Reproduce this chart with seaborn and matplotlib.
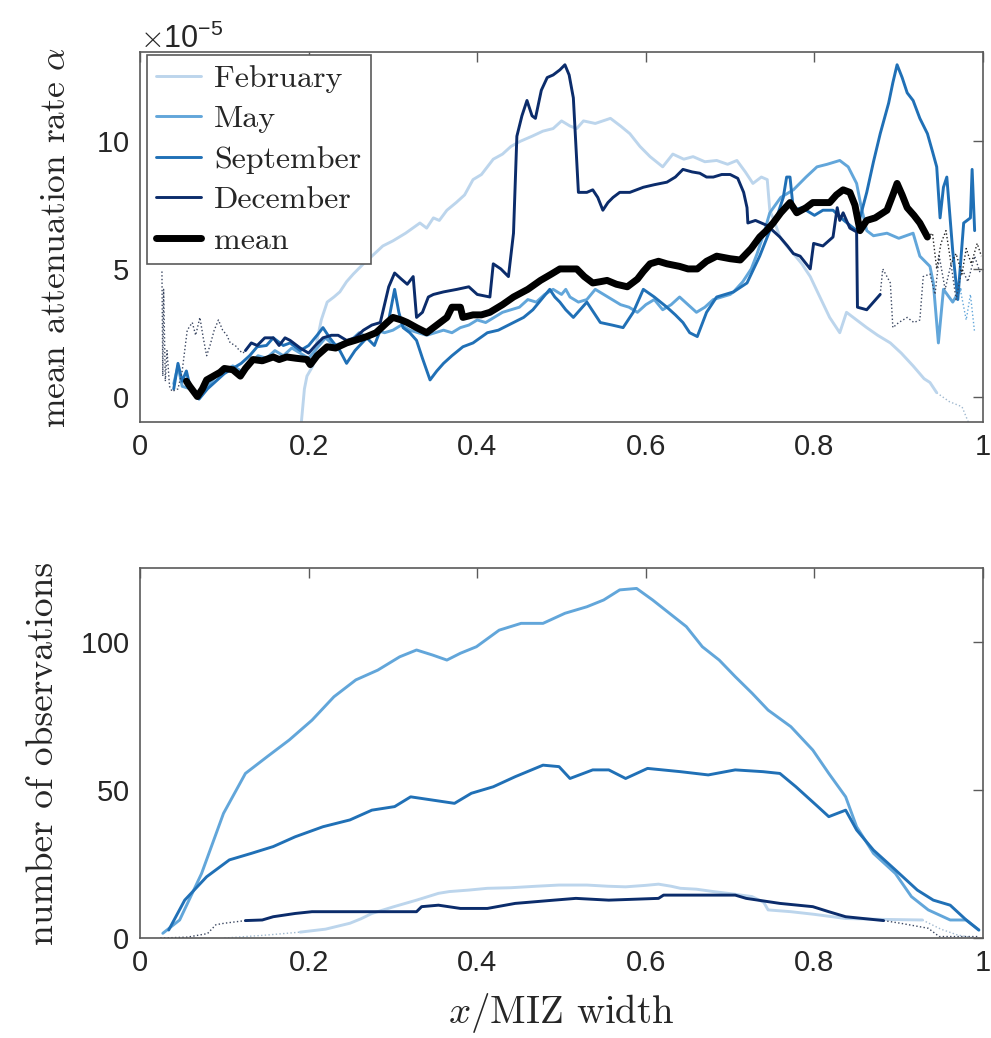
import numpy as np
import pandas as pd
import matplotlib
matplotlib.use("Agg")
import matplotlib.pyplot as plt
import seaborn as sns
from matplotlib.lines import Line2D

# ---------------------------------------------------------------------------
# Series styling
# ---------------------------------------------------------------------------
MONTHS = ["February", "May", "September", "December"]
COLORS = {
    "February": "#bcd5ec",
    "May": "#62a6da",
    "September": "#2070b6",
    "December": "#0b2c6b",
    "mean": "#000000",
}

# ---------------------------------------------------------------------------
# Upper panel: mean attenuation rate (units of 1e-5) against x / MIZ width
# ---------------------------------------------------------------------------
FEB_X = [0.190, 0.195, 0.198, 0.205, 0.210, 0.215, 0.222, 0.230, 0.237, 0.245,
         0.253, 0.265, 0.275, 0.288, 0.300, 0.315, 0.332, 0.340, 0.348, 0.355,
         0.364, 0.375, 0.385, 0.395, 0.405, 0.419, 0.430, 0.440, 0.451, 0.465,
         0.478, 0.490, 0.500, 0.510, 0.518, 0.526, 0.540, 0.558, 0.570, 0.581,
         0.593, 0.605, 0.620, 0.632, 0.645, 0.656, 0.670, 0.684, 0.697, 0.708,
         0.718, 0.727, 0.737, 0.744, 0.747, 0.752, 0.759, 0.767, 0.775, 0.785,
         0.795, 0.805, 0.818, 0.830, 0.838, 0.850, 0.862, 0.875, 0.890, 0.903,
         0.917, 0.930, 0.937, 0.945, 0.960, 0.975, 0.985]
FEB_ALPHA = [-1.5, 0.3, 0.8, 1.2, 2.2, 3.0, 3.7, 3.9, 4.1, 4.5,
             4.8, 5.2, 5.5, 5.9, 6.1, 6.4, 6.8, 6.6, 7.0, 6.9,
             7.3, 7.6, 7.9, 8.5, 8.7, 9.3, 9.5, 9.8, 10.0, 10.2,
             10.4, 10.5, 10.8, 10.6, 10.5, 10.8, 10.7, 10.9, 10.6, 10.3,
             9.8, 9.4, 9.0, 9.5, 9.3, 9.4, 9.2, 9.25, 9.1, 9.25,
             8.8, 8.35, 8.6, 8.5, 7.3, 6.9, 6.25, 5.9, 5.6, 5.2,
             4.7, 4.0, 3.1, 2.5, 3.3, 3.0, 2.7, 2.4, 2.1, 1.7,
             1.2, 0.7, 0.55, 0.15, -0.2, -0.4, -1.2]

MAY_X = [0.040, 0.045, 0.050, 0.060, 0.070, 0.080, 0.090, 0.100, 0.110, 0.120,
         0.130, 0.140, 0.150, 0.160, 0.170, 0.180, 0.190, 0.200, 0.210, 0.220,
         0.230, 0.240, 0.250, 0.260, 0.270, 0.280, 0.290, 0.300, 0.310, 0.320,
         0.330, 0.340, 0.350, 0.360, 0.370, 0.380, 0.390, 0.400, 0.410, 0.420,
         0.430, 0.440, 0.450, 0.460, 0.470, 0.480, 0.490, 0.500, 0.505, 0.510,
         0.520, 0.530, 0.540, 0.550, 0.560, 0.570, 0.580, 0.590, 0.600, 0.610,
         0.620, 0.630, 0.640, 0.650, 0.660, 0.670, 0.680, 0.690, 0.700, 0.704,
         0.715, 0.725, 0.732, 0.740, 0.747, 0.760, 0.775, 0.790, 0.803, 0.815,
         0.830, 0.840, 0.850, 0.855, 0.862, 0.870, 0.886, 0.900, 0.917, 0.925,
         0.937, 0.941, 0.947, 0.953, 0.964, 0.973, 0.980, 0.985, 0.990]
MAY_ALPHA = [0.5, 1.2, 0.4, 0.3, 0.0, 0.4, 0.8, 1.0, 1.2, 1.0,
             1.3, 1.6, 1.5, 1.8, 1.6, 1.9, 1.7, 1.5, 1.9, 2.3,
             2.0, 2.1, 2.2, 2.5, 2.3, 2.6, 2.5, 2.6, 2.8, 2.6,
             2.5, 2.4, 2.5, 2.6, 2.5, 2.7, 2.8, 3.0, 2.9, 3.1,
             3.3, 3.4, 3.5, 3.8, 3.7, 4.0, 4.2, 4.0, 4.2, 3.9,
             3.7, 3.8, 4.2, 4.0, 3.8, 3.6, 3.5, 3.3, 3.6, 3.8,
             3.4, 3.6, 3.9, 3.6, 3.3, 3.5, 3.8, 3.9, 4.0, 4.1,
             4.5, 5.0, 5.6, 6.4, 7.2, 7.8, 8.1, 8.6, 9.0, 9.1,
             9.25, 9.0, 8.35, 7.5, 6.5, 6.3, 6.4, 6.2, 6.4, 5.5,
             5.1, 4.45, 2.1, 4.2, 3.7, 4.2, 3.0, 4.0, 2.5]

SEP_X = [0.040, 0.045, 0.050, 0.055, 0.060, 0.070, 0.080, 0.090, 0.100, 0.110,
         0.120, 0.130, 0.139, 0.150, 0.158, 0.170, 0.178, 0.190, 0.200, 0.210,
         0.217, 0.225, 0.237, 0.245, 0.255, 0.269, 0.278, 0.285, 0.295, 0.302,
         0.307, 0.312, 0.320, 0.328, 0.335, 0.344, 0.352, 0.360, 0.370, 0.383,
         0.395, 0.412, 0.425, 0.443, 0.455, 0.466, 0.476, 0.486, 0.492, 0.498,
         0.505, 0.514, 0.522, 0.530, 0.538, 0.546, 0.560, 0.573, 0.585, 0.597,
         0.610, 0.625, 0.635, 0.644, 0.652, 0.661, 0.672, 0.684, 0.704, 0.720,
         0.735, 0.747, 0.757, 0.763, 0.767, 0.771, 0.775, 0.785, 0.800, 0.810,
         0.822, 0.835, 0.850, 0.862, 0.870, 0.878, 0.888, 0.893, 0.898, 0.904,
         0.910, 0.917, 0.925, 0.934, 0.940, 0.945, 0.949, 0.953, 0.957, 0.964,
         0.970, 0.977, 0.985, 0.987, 0.990]
SEP_ALPHA = [0.3, 1.3, 0.6, 1.0, 0.3, -0.1, 0.3, 0.6, 0.9, 1.1,
             1.3, 1.6, 1.95, 2.0, 2.3, 2.0, 2.1, 1.8, 2.0, 2.4,
             2.7, 2.3, 1.8, 1.3, 1.8, 2.3, 2.0, 2.6, 3.0, 4.2,
             3.3, 2.7, 2.5, 2.2, 1.5, 0.65, 1.0, 1.3, 1.6, 1.95,
             2.1, 2.5, 2.6, 2.9, 3.1, 3.4, 3.8, 4.2, 3.9, 3.7,
             3.4, 3.1, 3.4, 3.7, 3.3, 2.9, 2.8, 2.7, 3.3, 4.2,
             3.9, 3.5, 3.2, 2.9, 2.5, 2.35, 3.3, 3.9, 4.1, 4.45,
             5.5, 6.5, 7.2, 7.8, 8.6, 8.6, 7.3, 7.4, 7.1, 7.3,
             7.3, 6.9, 6.5, 8.0, 9.2, 10.3, 11.5, 12.3, 13.0, 12.5,
             11.9, 11.6, 10.9, 10.3, 9.6, 9.0, 7.0, 8.2, 8.6, 5.7,
             3.8, 6.8, 7.0, 8.9, 6.5]

DEC_X = [0.026, 0.027, 0.028, 0.030, 0.032, 0.035, 0.038, 0.045, 0.050, 0.056,
         0.062, 0.066, 0.071, 0.075, 0.079, 0.083, 0.088, 0.093, 0.098, 0.103,
         0.107, 0.113, 0.118, 0.122, 0.125, 0.132, 0.139, 0.148, 0.158, 0.165,
         0.172, 0.178, 0.190, 0.200, 0.208, 0.217, 0.227, 0.235, 0.245, 0.255,
         0.265, 0.275, 0.285, 0.290, 0.295, 0.302, 0.310, 0.317, 0.324, 0.328,
         0.335, 0.342, 0.348, 0.360, 0.376, 0.390, 0.400, 0.415, 0.419, 0.428,
         0.437, 0.443, 0.447, 0.453, 0.459, 0.465, 0.469, 0.476, 0.483, 0.490,
         0.498, 0.504, 0.509, 0.514, 0.520, 0.530, 0.537, 0.543, 0.549, 0.555,
         0.561, 0.569, 0.581, 0.597, 0.610, 0.625, 0.635, 0.644, 0.655, 0.664,
         0.672, 0.680, 0.690, 0.700, 0.709, 0.716, 0.720, 0.721, 0.730, 0.744,
         0.759, 0.768, 0.775, 0.783, 0.795, 0.799, 0.810, 0.822, 0.827, 0.830,
         0.834, 0.842, 0.850, 0.851, 0.862, 0.870, 0.878, 0.881, 0.886, 0.890,
         0.893, 0.900, 0.910, 0.918, 0.925, 0.929, 0.937, 0.943, 0.948, 0.955,
         0.962, 0.968, 0.975, 0.982, 0.990, 0.997]
DEC_ALPHA = [4.9, 0.8, 4.2, 0.6, 1.8, 0.4, 0.2, 0.3, 1.0, 2.6,
             2.9, 2.4, 3.1, 2.3, 1.6, 2.0, 2.6, 3.0, 2.6, 2.4,
             2.1, 2.0, 1.8, 1.7, 1.8, 2.1, 2.0, 2.3, 2.3, 2.0,
             2.3, 2.2, 1.9, 1.7, 2.0, 2.3, 2.4, 2.4, 2.2, 2.3,
             2.6, 2.8, 2.9, 3.6, 4.3, 4.84, 4.6, 4.4, 4.7, 3.1,
             3.3, 3.9, 4.0, 4.1, 4.2, 4.3, 4.0, 3.9, 5.2, 5.0,
             4.7, 6.4, 10.2, 11.0, 11.6, 11.0, 10.9, 12.0, 12.5, 12.6,
             12.8, 13.0, 12.6, 11.7, 8.0, 8.0, 8.1, 7.8, 7.3, 7.6,
             7.8, 8.0, 8.0, 8.2, 8.3, 8.4, 8.6, 8.9, 8.8, 8.75,
             8.6, 8.6, 8.7, 8.7, 8.55, 8.0, 7.4, 6.8, 6.9, 6.7,
             6.25, 5.9, 5.6, 5.5, 5.0, 6.0, 5.9, 6.25, 7.4, 6.9,
             7.2, 6.6, 6.45, 3.5, 3.4, 3.7, 4.0, 5.0, 4.7, 4.45,
             2.7, 2.9, 3.1, 2.9, 3.0, 4.7, 4.8, 4.0, 5.5, 4.2,
             5.2, 3.8, 5.0, 4.5, 5.5, 4.8]

MEAN_X = [0.055, 0.059, 0.068, 0.074, 0.079, 0.087, 0.095, 0.100, 0.110, 0.119,
          0.125, 0.134, 0.145, 0.158, 0.165, 0.174, 0.185, 0.198, 0.202, 0.210,
          0.222, 0.232, 0.245, 0.255, 0.269, 0.280, 0.293, 0.300, 0.310, 0.317,
          0.328, 0.340, 0.352, 0.364, 0.370, 0.380, 0.383, 0.395, 0.405, 0.415,
          0.430, 0.443, 0.460, 0.475, 0.488, 0.498, 0.508, 0.518, 0.527, 0.537,
          0.546, 0.554, 0.565, 0.578, 0.590, 0.597, 0.605, 0.615, 0.625, 0.640,
          0.650, 0.661, 0.672, 0.684, 0.700, 0.712, 0.725, 0.735, 0.743, 0.751,
          0.760, 0.771, 0.779, 0.790, 0.798, 0.808, 0.818, 0.826, 0.834, 0.842,
          0.848, 0.854, 0.862, 0.872, 0.886, 0.893, 0.898, 0.904, 0.910, 0.918,
          0.925, 0.934, 0.940, 0.945, 0.950, 0.956, 0.962, 0.968, 0.975, 0.980,
          0.986, 0.993, 0.998]
MEAN_ALPHA = [0.6, 0.4, 0.0, 0.3, 0.65, 0.8, 0.95, 1.1, 1.05, 0.8,
              1.1, 1.45, 1.4, 1.55, 1.45, 1.55, 1.5, 1.45, 1.25, 1.6,
              1.95, 1.9, 2.1, 2.2, 2.35, 2.5, 2.9, 3.1, 3.0, 2.9,
              2.7, 2.5, 2.8, 3.1, 3.5, 3.5, 3.1, 3.2, 3.2, 3.3,
              3.6, 3.9, 4.2, 4.55, 4.8, 5.0, 5.0, 5.0, 4.7, 4.45,
              4.5, 4.55, 4.4, 4.3, 4.6, 4.9, 5.2, 5.3, 5.2, 5.1,
              5.0, 5.0, 5.3, 5.5, 5.4, 5.35, 5.8, 6.25, 6.5, 6.8,
              7.2, 7.6, 7.2, 7.4, 7.6, 7.6, 7.6, 7.9, 8.1, 8.0,
              7.5, 6.5, 6.9, 7.0, 7.3, 7.9, 8.35, 7.9, 7.4, 7.1,
              6.8, 6.25, 6.4, 5.0, 6.0, 6.5, 5.2, 5.6, 4.8, 5.8,
              5.2, 6.0, 5.5]

# x-range over which each attenuation curve is drawn solid (dotted elsewhere)
ALPHA_SOLID = {
    "February": (0.190, 0.945),
    "May": (0.040, 0.973),
    "September": (0.040, 0.990),
    "December": (0.125, 0.878),
    "mean": (0.055, 0.934),
}

# ---------------------------------------------------------------------------
# Lower panel: number of observations against x / MIZ width
# ---------------------------------------------------------------------------
FEB_N_X = [0.100, 0.150, 0.190, 0.220, 0.249, 0.262, 0.275, 0.300, 0.328, 0.354,
           0.367, 0.390, 0.412, 0.440, 0.470, 0.497, 0.530, 0.555, 0.576, 0.600,
           0.615, 0.630, 0.641, 0.660, 0.680, 0.700, 0.726, 0.740, 0.745, 0.772,
           0.800, 0.837, 0.880, 0.928, 0.950, 0.970, 0.990]
FEB_N = [0, 1, 2, 3, 5, 6.5, 8.3, 10.5, 12.8, 15.1,
         15.7, 16.2, 16.8, 17.0, 17.5, 17.9, 17.9, 17.5, 17.3, 17.8,
         18.2, 17.5, 16.8, 16.5, 15.7, 15.0, 14.0, 12.0, 9.5, 8.9,
         8.0, 6.6, 6.3, 6.1, 3, 1, 0]

MAY_N_X = [0.027, 0.047, 0.073, 0.099, 0.125, 0.151, 0.177, 0.204, 0.230, 0.256,
           0.282, 0.308, 0.328, 0.347, 0.364, 0.380, 0.399, 0.426, 0.452, 0.478,
           0.504, 0.530, 0.550, 0.569, 0.589, 0.608, 0.628, 0.648, 0.667, 0.687,
           0.706, 0.726, 0.745, 0.772, 0.798, 0.817, 0.837, 0.850, 0.870, 0.896,
           0.915, 0.935, 0.961, 0.980, 0.995]
MAY_N = [1.6, 6.1, 21.8, 42.1, 55.6, 61.3, 66.9, 73.6, 81.5, 87.2,
         90.5, 95.0, 97.3, 95.6, 93.9, 96.2, 98.4, 104.0, 106.3, 106.3,
         109.7, 111.9, 114.2, 117.6, 118.1, 114.2, 109.7, 105.2, 98.4, 93.9,
         88.3, 82.7, 77.0, 71.4, 63.5, 55.6, 47.7, 37.6, 28.6, 21.8,
         14.0, 9.5, 6.1, 6.1, 2.7]

SEP_N_X = [0.034, 0.053, 0.079, 0.106, 0.132, 0.158, 0.184, 0.217, 0.249, 0.275,
           0.302, 0.321, 0.347, 0.373, 0.393, 0.419, 0.445, 0.478, 0.497, 0.510,
           0.537, 0.556, 0.576, 0.602, 0.641, 0.674, 0.706, 0.739, 0.759, 0.778,
           0.804, 0.817, 0.837, 0.850, 0.870, 0.896, 0.922, 0.941, 0.961, 0.980,
           0.995]
SEP_N = [2.7, 12.8, 20.7, 26.4, 28.6, 30.9, 34.2, 37.6, 39.9, 43.2,
         44.4, 47.7, 46.6, 45.5, 48.9, 51.1, 54.5, 58.4, 57.9, 53.9,
         56.8, 56.8, 53.9, 57.3, 56.2, 55.1, 56.8, 56.2, 55.6, 51.1,
         44.4, 41.0, 43.2, 36.5, 29.7, 23.0, 16.2, 12.8, 11.1, 6.1,
         2.7]

DEC_N_X = [0.024, 0.056, 0.080, 0.090, 0.100, 0.125, 0.145, 0.158, 0.184, 0.204,
           0.263, 0.328, 0.334, 0.354, 0.380, 0.412, 0.445, 0.491, 0.517, 0.556,
           0.615, 0.621, 0.706, 0.719, 0.759, 0.798, 0.817, 0.837, 0.882, 0.902,
           0.935, 0.948, 0.995]
DEC_N = [0, 0.3, 1.5, 4.5, 5.0, 5.9, 6.1, 7.2, 8.3, 8.9,
         8.9, 8.9, 10.6, 11.1, 10.0, 10.0, 11.7, 12.8, 13.4, 12.8,
         13.4, 14.5, 14.5, 13.4, 11.7, 10.6, 8.9, 7.2, 5.9, 5.0,
         3.3, 0.5, 0.5]

COUNT_SOLID = {
    "February": (0.190, 0.928),
    "May": (0.0, 1.0),
    "September": (0.0, 1.0),
    "December": (0.125, 0.882),
}

XTICKS = [0, 0.2, 0.4, 0.6, 0.8, 1]
XTICK_LABELS = ["0", "0.2", "0.4", "0.6", "0.8", "1"]
ALPHA_TICKS = [0, 5, 10]
COUNT_TICKS = [0, 50, 100]
ALPHA_UNIT = 1e-5

ALPHA_DATA = {
    "February": (FEB_X, FEB_ALPHA),
    "May": (MAY_X, MAY_ALPHA),
    "September": (SEP_X, SEP_ALPHA),
    "December": (DEC_X, DEC_ALPHA),
    "mean": (MEAN_X, MEAN_ALPHA),
}
COUNT_DATA = {
    "February": (FEB_N_X, FEB_N),
    "May": (MAY_N_X, MAY_N),
    "September": (SEP_N_X, SEP_N),
    "December": (DEC_N_X, DEC_N),
}
DOT_COLORS = {
    "February": "#9fb8cf",
    "May": "#62a6da",
    "September": "#2070b6",
    "December": "#3a4660",
    "mean": "#222222",
}

# ---------------------------------------------------------------------------
# Theme
# ---------------------------------------------------------------------------
sns.set_theme(style="white")
plt.rcParams["font.family"] = ["Liberation Sans", "DejaVu Sans"]
plt.rcParams["mathtext.fontset"] = "cm"
plt.rcParams["axes.formatter.use_mathtext"] = True
SPINE = "#5a5a5a"
TEXT = "#262626"
SERIF = "cmr10"
MONTH_LW = 2.1
MEAN_LW = 5.0


def draw_series(ax, x, y, color, dotcolor, lw, bounds, scale=1.0):
    df = pd.DataFrame({"x": x, "y": np.asarray(y, dtype=float) * scale})
    lo, hi = bounds
    solid = df[(df.x >= lo) & (df.x <= hi)]
    before = df[df.x <= lo]
    after = df[df.x >= hi]
    for seg in (before, after):
        if len(seg) > 1:
            sns.lineplot(data=seg, x="x", y="y", ax=ax, color=dotcolor,
                         lw=1.0, linestyle=":", estimator=None, sort=False,
                         legend=False)
    if len(solid) > 1:
        sns.lineplot(data=solid, x="x", y="y", ax=ax, color=color, lw=lw,
                     estimator=None, sort=False, legend=False,
                     solid_joinstyle="round", solid_capstyle="round")


def style_axes(ax):
    for s in ax.spines.values():
        s.set_color(SPINE)
        s.set_linewidth(1.2)
        s.set_visible(True)
    ax.tick_params(direction="in", length=7, width=1.0, color=SPINE,
                   top=True, right=True, labelsize=21, labelcolor=TEXT,
                   pad=8)
    ax.set_xlim(0, 1)
    ax.set_xticks(XTICKS)
    ax.set_xticklabels(XTICK_LABELS)


fig = plt.figure(figsize=(9.91, 10.38), dpi=100)
ax1 = fig.add_axes([0.1413, 0.5934, 0.8507, 0.3565])
ax2 = fig.add_axes([0.1413, 0.0963, 0.8507, 0.3565])

# upper panel
for name in MONTHS + ["mean"]:
    xs, ys = ALPHA_DATA[name]
    lw = MEAN_LW if name == "mean" else MONTH_LW
    draw_series(ax1, xs, ys, COLORS[name], DOT_COLORS[name], lw,
                ALPHA_SOLID[name], scale=ALPHA_UNIT)

style_axes(ax1)
ax1.set_ylim(-1.0 * ALPHA_UNIT, 13.5 * ALPHA_UNIT)
ax1.set_yticks([t * ALPHA_UNIT for t in ALPHA_TICKS])
ax1.ticklabel_format(axis="y", style="sci", scilimits=(-5, -5), useMathText=True)
ax1.yaxis.get_offset_text().set_fontsize(22)
ax1.yaxis.get_offset_text().set_color(TEXT)
ax1.set_xlabel("")
ax1.set_ylabel(r"mean attenuation rate $\alpha$", family=SERIF, fontsize=25.5,
               color=TEXT, labelpad=17)

handles = [Line2D([], [], color=COLORS[m], lw=MONTH_LW) for m in MONTHS]
handles.append(Line2D([], [], color=COLORS["mean"], lw=MEAN_LW))
leg = ax1.legend(handles, MONTHS + ["mean"], loc="upper left",
                 bbox_to_anchor=(0.008, 0.992), prop={"family": SERIF, "size": 23},
                 frameon=True, fancybox=False, framealpha=1.0,
                 edgecolor=SPINE, handlelength=1.4, handletextpad=0.4,
                 labelspacing=0.38, borderpad=0.3, borderaxespad=0.0)
leg.get_frame().set_linewidth(1.2)
for t in leg.get_texts():
    t.set_color(TEXT)

# lower panel
for name in MONTHS:
    xs, ys = COUNT_DATA[name]
    draw_series(ax2, xs, ys, COLORS[name], DOT_COLORS[name], MONTH_LW,
                COUNT_SOLID[name])

style_axes(ax2)
ax2.set_ylim(0, 125)
ax2.set_yticks(COUNT_TICKS)
ax2.set_xlabel(r"$x$/MIZ width", family=SERIF, fontsize=28, color=TEXT,
               labelpad=10)
ax2.set_ylabel("number of observations", family=SERIF, fontsize=27,
               color=TEXT, labelpad=14)

fig.savefig("out.png", dpi=100)
